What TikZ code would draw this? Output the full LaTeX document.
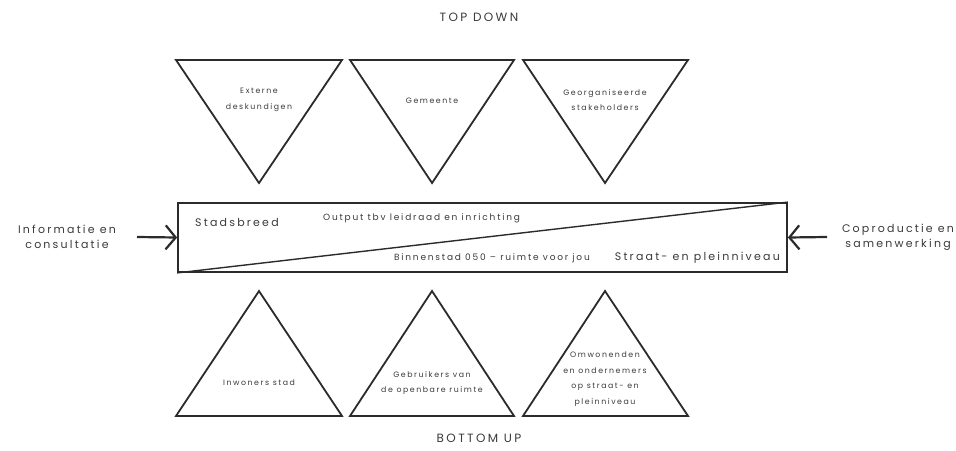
\documentclass[tikz,border=0pt]{standalone}
\usepackage{fontspec}
\setmainfont{Poppins}
\newfontfamily\widefont[LetterSpace=20]{Poppins}
\usepackage{xcolor}
\usetikzlibrary{arrows.meta,positioning,calc}
\definecolor{ink}{HTML}{2B2B2B}
\definecolor{txt}{HTML}{3A3A3A}

\begin{document}
\begin{tikzpicture}[x=1pt,y=-1pt,
  tri/.style={draw=ink,line width=1.8pt,line join=miter},
  tlbl/.style={text=txt,font=\widefont\fontsize{7.8}{15.5}\selectfont,align=center,inner sep=0pt},
  lbl/.style={text=txt,font=\widefont\fontsize{9}{11}\selectfont,align=center,inner sep=0pt},
  side/.style={text=txt,font=\widefont\fontsize{11}{15}\selectfont,align=center,inner sep=0pt},
  head/.style={text=txt,font=\widefont\fontsize{12}{14}\selectfont,inner sep=0pt},
  arr/.style={-{Straight Barb[length=10pt,width=24pt]},draw=ink,line width=2.2pt}
]
\useasboundingbox (0,0) rectangle (956,450);
% bovenste driehoeken
\draw[tri] (176,60) -- (342,60) -- (259,183) -- cycle;
\draw[tri] (350,60) -- (514,60) -- (432,183) -- cycle;
\draw[tri] (523,60) -- (688,60) -- (605,183) -- cycle;
\node[tlbl] (ext) at (259,100) {Externe\\deskundigen};
\node[tlbl] (gem) at (432,101) {Gemeente};
\node[tlbl] (geo) at (605,100) {Georganiseerde\\stakeholders};
% onderste driehoeken
\draw[tri] (176,416) -- (342,416) -- (259,291) -- cycle;
\draw[tri] (350,416) -- (514,416) -- (432,291) -- cycle;
\draw[tri] (523,416) -- (688,416) -- (605,291) -- cycle;
\node[tlbl] (inw) at (259,383) {Inwoners stad};
\node[tlbl] (geb) at (432,383) {Gebruikers van\\de openbare ruimte};
\node[tlbl] (omw) at (605,379) {Omwonenden\\en ondernemers\\op straat- en\\pleinniveau};
% middenbalk
\node[draw=ink,line width=1.8pt,minimum width=609pt,minimum height=69pt,inner sep=0pt] (balk) at (482.5,237.5) {};
\draw[ink,line width=1.4pt] (balk.south west) -- (balk.north east);
\node[side,anchor=west] (stad) at (195,222) {Stadsbreed};
\node[lbl,anchor=west] (out) at (323,218) {Output tbv leidraad en inrichting};
\node[lbl,anchor=east] (bin) at (590,258) {Binnenstad 050 – ruimte voor jou};
\node[side,anchor=east] (str) at (780,258) {Straat- en pleinniveau};
% zijkanten
\node[side] (info) at (67,237) {Informatie en\\consultatie};
\node[side] (copr) at (898,237) {Coproductie en\\samenwerking};
\coordinate (li) at (137,237);
\coordinate (re) at (827,237);
\draw[arr] (li) -- (balk.west);
\draw[arr] (re) -- (balk.east);
% titels
\node[head] (top) at (479,17) {TOP DOWN};
\node[head] (bot) at (479,438) {BOTTOM UP};
\end{tikzpicture}
\end{document}
